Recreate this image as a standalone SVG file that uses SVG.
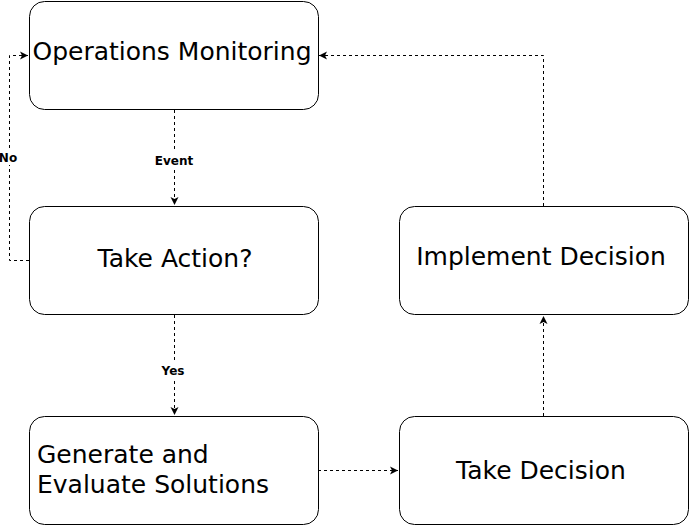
<svg xmlns="http://www.w3.org/2000/svg" width="690" height="526" viewBox="0 0 690 526">
<defs>
<marker id="ah" markerWidth="10" markerHeight="10" refX="8" refY="4.5" orient="auto" markerUnits="userSpaceOnUse">
<path d="M0,0.5 L8,4.5 L0,8.5 L2,4.5 Z" fill="#000"/>
</marker>
<style>
.box{fill:#fff;stroke:#000;stroke-width:1}
.t{font-family:"DejaVu Sans",Verdana,sans-serif;font-size:25px;fill:#000}
.c{fill:none;stroke:#000;stroke-width:1;stroke-dasharray:3 3;marker-end:url(#ah)}
.lb{font-family:"DejaVu Sans",Verdana,sans-serif;font-size:12px;font-weight:bold;fill:#000;text-anchor:middle}
.lbg{fill:#fff}
</style>
</defs>
<rect width="690" height="526" fill="#fff"/>
<g id="connectors">
<path class="c" d="M174.5,110 V205"/>
<rect class="lbg" x="152" y="152" width="45" height="15"/>
<text class="lb" x="174" y="165">Event</text>
<path class="c" d="M29,260.5 H9.5 V55.5 H28"/>
<rect class="lbg" x="0" y="150" width="18" height="15"/>
<text class="lb" x="8" y="162">No</text>
<path class="c" d="M174.5,315 V415"/>
<rect class="lbg" x="158" y="363" width="32" height="15"/>
<text class="lb" x="173" y="375">Yes</text>
<path class="c" d="M318,470.5 H398"/>
<path class="c" d="M543.5,416 V316"/>
<path class="c" d="M543.5,206 V55.5 H319"/>
</g>
<g id="ops">
<rect class="box" x="29.5" y="1.5" width="289" height="108" rx="15"/>
<text class="t" x="172" y="60" text-anchor="middle">Operations Monitoring</text>
</g>
<g id="take-action">
<rect class="box" x="29.5" y="206.5" width="289" height="108" rx="15"/>
<text class="t" x="175" y="267" text-anchor="middle">Take Action?</text>
</g>
<g id="generate">
<rect class="box" x="29.5" y="416.5" width="289" height="108" rx="15"/>
<text class="t" x="37" y="463">Generate and</text>
<text class="t" x="37" y="493">Evaluate Solutions</text>
</g>
<g id="implement">
<rect class="box" x="399.5" y="206.5" width="289" height="108" rx="15"/>
<text class="t" x="541" y="265" text-anchor="middle">Implement Decision</text>
</g>
<g id="take-decision">
<rect class="box" x="399.5" y="416.5" width="289" height="108" rx="15"/>
<text class="t" x="541" y="479" text-anchor="middle">Take Decision</text>
</g>
</svg>
